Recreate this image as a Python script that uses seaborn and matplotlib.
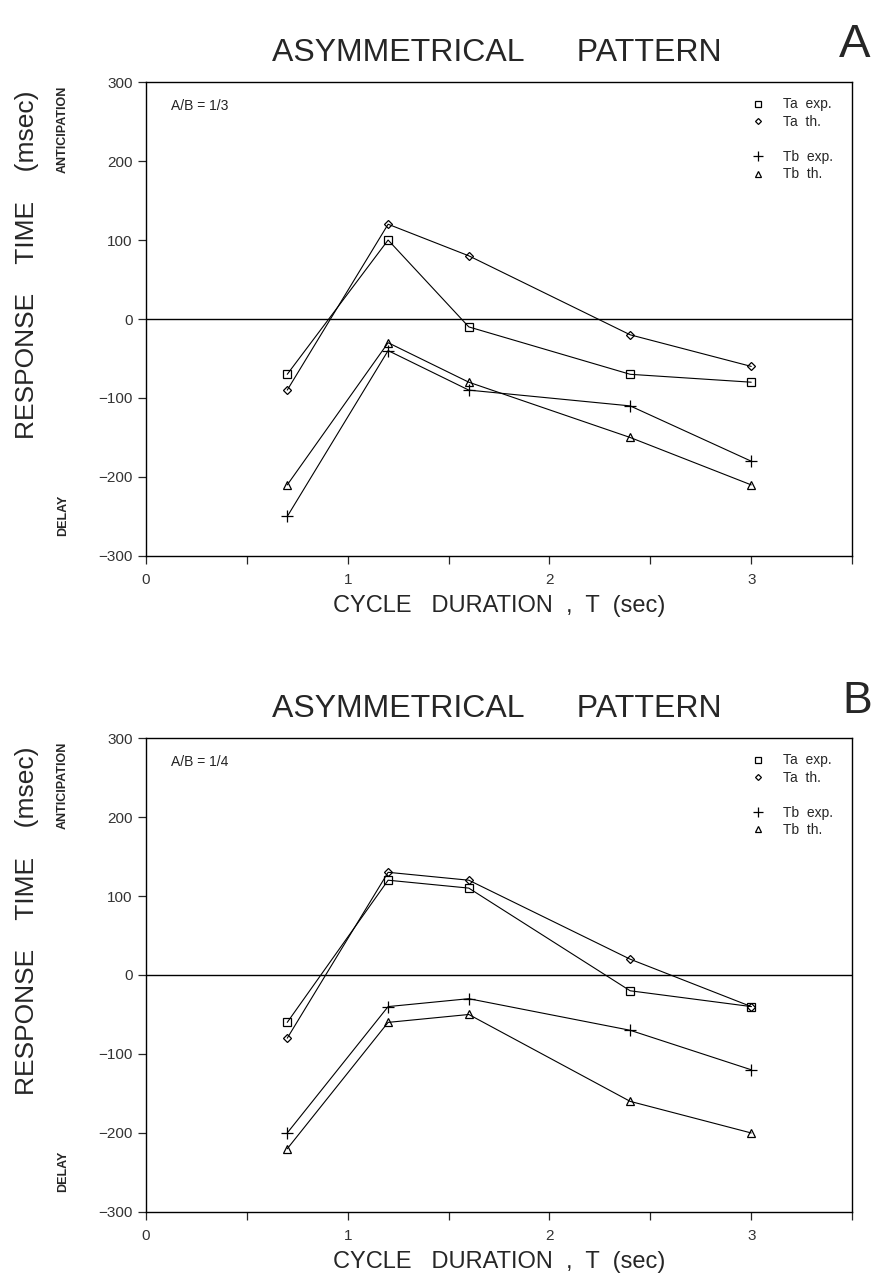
import numpy as np
import pandas as pd
import seaborn as sns
import matplotlib.pyplot as plt
from matplotlib.lines import Line2D

# Datos
cycle_T = [0.7, 1.2, 1.6, 2.4, 3.0]

# Panel A  (A/B = 1/3)
ta_exp_a = [-70, 100, -10, -70, -80]
ta_th_a = [-90, 120, 80, -20, -60]
tb_exp_a = [-250, -40, -90, -110, -180]
tb_th_a = [-210, -30, -80, -150, -210]

# Panel B  (A/B = 1/4)
ta_exp_b = [-60, 120, 110, -20, -40]
ta_th_b = [-80, 130, 120, 20, -40]
tb_exp_b = [-200, -40, -30, -70, -120]
tb_th_b = [-220, -60, -50, -160, -200]

series_names = ['Ta  exp.', 'Ta  th.', 'Tb  exp.', 'Tb  th.']
markers = {'Ta  exp.': 's', 'Ta  th.': 'D', 'Tb  exp.': '+', 'Tb  th.': '^'}
msizes = {'Ta  exp.': 6, 'Ta  th.': 4, 'Tb  exp.': 8, 'Tb  th.': 6}

yticks = [-300, -200, -100, 0, 100, 200, 300]
xticks = [0, 0.5, 1, 1.5, 2, 2.5, 3, 3.5]
xticklabels = ['0', '', '1', '', '2', '', '3', '']

sns.set_style('ticks')
plt.rcParams['font.family'] = ['Liberation Sans', 'DejaVu Sans']

fig = plt.figure(figsize=(8.76, 12.74), dpi=100)

paneles = [
    ('A', 'A/B = 1/3', [ta_exp_a, ta_th_a, tb_exp_a, tb_th_a], [0.1667, 0.5636, 0.806, 0.372]),
    ('B', 'A/B = 1/4', [ta_exp_b, ta_th_b, tb_exp_b, tb_th_b], [0.1667, 0.0487, 0.806, 0.372]),
]

for letra, ratio, valores, pos in paneles:
    ax = fig.add_axes(pos)
    df = pd.DataFrame({
        'T': cycle_T * 4,
        'resp': sum(valores, []),
        'serie': np.repeat(series_names, len(cycle_T)),
    })
    for nombre in series_names:
        sub = df[df['serie'] == nombre]
        sns.lineplot(data=sub, x='T', y='resp', ax=ax, color='black', lw=0.8,
                     marker=markers[nombre], markersize=msizes[nombre],
                     markerfacecolor='none', markeredgecolor='black',
                     markeredgewidth=0.9, legend=False)
    ax.axhline(0, color='black', lw=1.0)

    ax.set_xlim(0, 3.5)
    ax.set_ylim(-300, 300)
    ax.set_yticks(yticks)
    ax.set_xticks(xticks)
    ax.set_xticklabels(xticklabels)
    ax.tick_params(axis='both', direction='out', length=6, width=0.9,
                   labelsize=11, labelcolor='#333333')
    ax.tick_params(axis='x', pad=6)
    for sp in ax.spines.values():
        sp.set_visible(True)
        sp.set_linewidth(1.0)
        sp.set_color('black')

    ax.set_xlabel('CYCLE   DURATION  ,  T  (sec)', fontsize=17, labelpad=6)
    ax.set_ylabel('RESPONSE    TIME    (msec)', fontsize=19)
    ax.yaxis.set_label_coords(-0.152, 0.615)

    ax.text(0.035, 0.965, ratio, transform=ax.transAxes, fontsize=10,
            ha='left', va='top', color='#222222')
    ax.text(-0.118, 0.9, 'ANTICIPATION', transform=ax.transAxes, rotation=90,
            fontsize=9, fontweight='bold', ha='center', va='center')
    ax.text(-0.118, 0.085, 'DELAY', transform=ax.transAxes, rotation=90,
            fontsize=9, fontweight='bold', ha='center', va='center')

    # leyenda con hueco entre Ta y Tb
    handles = []
    labels = []
    for i, nombre in enumerate(series_names):
        if i == 2:
            handles.append(Line2D([], [], linestyle='none'))
            labels.append(' ')
        handles.append(Line2D([], [], linestyle='none', marker=markers[nombre],
                              markersize=msizes[nombre] - 1, markerfacecolor='none',
                              markeredgecolor='black', markeredgewidth=0.9))
        labels.append(nombre)
    ax.legend(handles, labels, loc='upper right', bbox_to_anchor=(0.985, 0.985),
              frameon=False, fontsize=10, handlelength=1.0, handletextpad=1.3,
              labelspacing=0.25, borderaxespad=0.2)

    ax.set_title('ASYMMETRICAL      PATTERN', fontsize=23, pad=15, x=0.497)
    if letra == 'A':
        ax.text(1.003, 1.078, letra, transform=ax.transAxes,
                fontsize=34, ha='center', va='center')
    else:
        ax.text(1.028, 1.078, letra, transform=ax.transAxes,
                fontsize=32, ha='right', va='center')

fig.savefig('out.png', dpi=100)
